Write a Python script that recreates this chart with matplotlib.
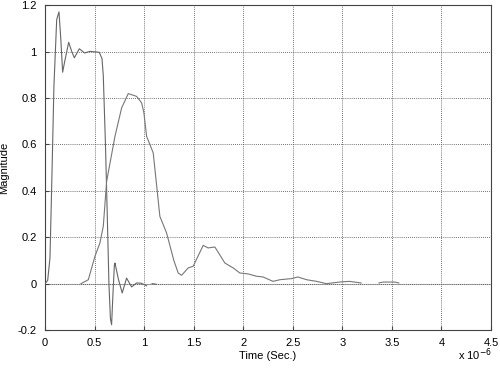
import numpy as np
import matplotlib
matplotlib.use("Agg")
import matplotlib.pyplot as plt

# time in units of 1e-6 s
t_step = [0.0, 0.027, 0.05, 0.067, 0.09, 0.118, 0.141, 0.16, 0.178, 0.2, 0.239,
          0.27, 0.296, 0.346, 0.4, 0.454, 0.547, 0.575, 0.588, 0.61, 0.628,
          0.645, 0.66, 0.672, 0.685, 0.7, 0.706, 0.74, 0.779, 0.823, 0.874,
          0.924, 0.97, 1.025, np.nan, 1.08, 1.12]
v_step = [0.0, 0.014, 0.11, 0.41, 0.85, 1.138, 1.171, 1.05, 0.911, 0.96, 1.04,
          1.0, 0.973, 1.012, 0.994, 1.001, 0.997, 0.97, 0.897, 0.6, 0.3,
          0.0, -0.15, -0.177, -0.05, 0.08, 0.089, 0.02, -0.04, 0.024, -0.014,
          0.003, 0.002, -0.009, np.nan, 0.0, -0.002]

t_pulse = [0.363, 0.437, 0.504, 0.554, 0.588, 0.622, 0.706, 0.773, 0.84, 0.924,
           0.975, 0.998, 1.025, 1.058, 1.092, 1.159, 1.227, 1.30, 1.344, 1.378,
           1.445, 1.495, 1.596, 1.646, 1.714, 1.815, 1.898, 1.966, 2.05, 2.134,
           2.2, 2.30, 2.37, 2.49, 2.55, 2.64, 2.74, 2.84, 2.97, 3.07, 3.19,
           np.nan, 3.37, 3.41, 3.53, 3.57]
v_pulse = [0.0, 0.017, 0.118, 0.175, 0.247, 0.441, 0.635, 0.757, 0.819, 0.807,
           0.779, 0.736, 0.635, 0.6, 0.563, 0.29, 0.218, 0.1, 0.046, 0.036,
           0.068, 0.075, 0.165, 0.154, 0.158, 0.089, 0.068, 0.046, 0.042, 0.032,
           0.029, 0.01, 0.017, 0.022, 0.029, 0.017, 0.01, 0.0, 0.007, 0.01, 0.003,
           np.nan, 0.003, 0.007, 0.007, 0.003]

x_ticks = [0, 0.5, 1, 1.5, 2, 2.5, 3, 3.5, 4, 4.5]
x_labels = ["0", "0.5", "1", "1.5", "2", "2.5", "3", "3.5", "4", "4.5"]
y_ticks = [-0.2, 0, 0.2, 0.4, 0.6, 0.8, 1, 1.2]
y_labels = ["-0.2", "0", "0.2", "0.4", "0.6", "0.8", "1", "1.2"]

plt.rcParams['font.family'] = ['Liberation Sans', 'DejaVu Sans']

fig = plt.figure(figsize=(5, 3.68), dpi=100)
ax = fig.add_axes([0.09, 0.103, 0.892, 0.883])

ax.axhline(0, color='#c0c0c0', lw=0.8, zorder=1)
ax.plot(t_step, v_step, color='#666666', lw=0.8, zorder=3)
ax.plot(t_pulse, v_pulse, color='#777777', lw=0.8, zorder=3)

ax.set_xlim(0, 4.5)
ax.set_ylim(-0.2, 1.2)
ax.set_xticks(x_ticks)
ax.set_xticklabels(x_labels)
ax.set_yticks(y_ticks)
ax.set_yticklabels(y_labels)
ax.tick_params(direction='in', length=3, labelsize=8, pad=6, color='#444444')
ax.grid(True, linestyle=(0, (1, 1.5)), color='#444444', lw=0.6)
for s in ax.spines.values():
    s.set_color('#444444')
    s.set_linewidth(0.8)

ax.set_xlabel("Time (Sec.)", fontsize=8, labelpad=2)
ax.set_ylabel("Magnitude", fontsize=8, labelpad=6)
fig.text(0.915, 0.035, r"x 10$^{-6}$", fontsize=8, va='center')

plt.savefig("out.png", dpi=100)
plt.close()
